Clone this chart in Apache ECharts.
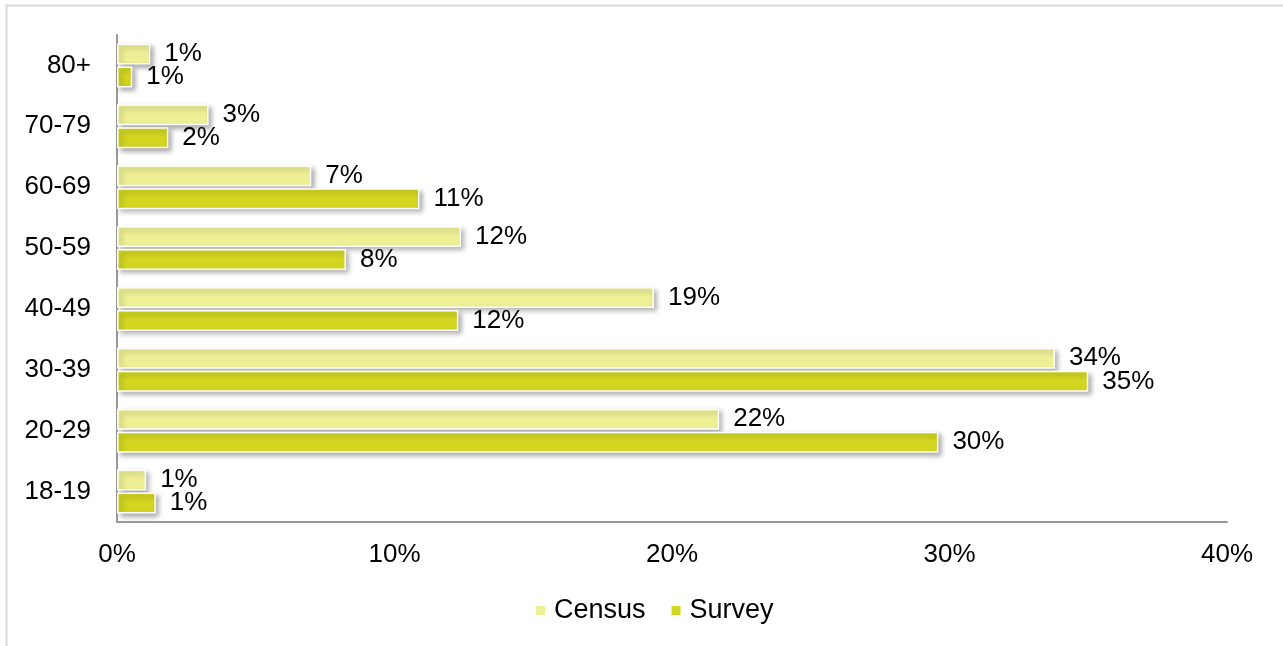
<!DOCTYPE html>
<html>
<head>
<meta charset="utf-8">
<script src="https://cdn.jsdelivr.net/npm/echarts@6/dist/echarts.min.js"></script>
<style>
  html, body { margin: 0; padding: 0; background: #fff; }
  #chart { width: 1283px; height: 646px; }
</style>
</head>
<body>
<div id="chart"></div>
<script>
// Age groups, bottom to top
const ageGroups = ['18-19', '20-29', '30-39', '40-49', '50-59', '60-69', '70-79', '80+'];
// Share of respondents in each age group (%)
const censusValues = [1.05, 21.7, 33.8, 19.35, 12.4, 7.0, 3.3, 1.2];
const surveyValues = [1.4, 29.6, 35.0, 12.3, 8.25, 10.9, 1.85, 0.55];
const xTicks = [0, 10, 20, 30, 40];

const FONT = 'Liberation Sans, Arial, sans-serif';
const censusColor = '#eef096';
const surveyColor = '#d3d620';

const barStyle = (color) => ({
  color: color,
  borderColor: '#ffffff',
  borderWidth: 1.5,
  shadowColor: 'rgba(0,0,0,0.32)',
  shadowBlur: 5,
  shadowOffsetX: 3,
  shadowOffsetY: 3
});

const labelStyle = {
  show: true,
  position: 'right',
  distance: 14,
  color: '#000',
  fontFamily: FONT,
  fontSize: 26,
  formatter: (p) => Math.round(p.value) + '%'
};

const chart = echarts.init(document.getElementById('chart'), null, { renderer: 'canvas' });
chart.setOption({
  animation: false,
  backgroundColor: '#ffffff',
  graphic: [{
    type: 'rect',
    shape: { x: 6.5, y: 5.5, width: 1400, height: 800 },
    style: { fill: 'none', stroke: '#d9d9d9', lineWidth: 2 },
    silent: true,
    z: -10
  }],
  grid: { left: 117, right: 56, top: 35, bottom: 124, containLabel: false },
  legend: {
    data: ['Census', 'Survey'],
    bottom: 17,
    left: 529,
    itemWidth: 11,
    itemHeight: 11,
    itemGap: 24,
    icon: 'rect',
    textStyle: { fontFamily: FONT, fontSize: 27, color: '#000', padding: [0, 0, 0, 3] }
  },
  xAxis: {
    type: 'value',
    min: xTicks[0],
    max: xTicks[xTicks.length - 1],
    interval: 10,
    axisLine: { show: true, lineStyle: { color: '#999999', width: 2 } },
    axisTick: { show: false },
    splitLine: { show: false },
    axisLabel: {
      margin: 20,
      fontFamily: FONT,
      fontSize: 26,
      color: '#000',
      formatter: (v) => v + '%'
    }
  },
  yAxis: {
    type: 'category',
    data: ageGroups,
    axisLine: { show: true, lineStyle: { color: '#999999', width: 2 } },
    axisTick: { show: false },
    axisLabel: { margin: 26, fontFamily: FONT, fontSize: 26, color: '#000' }
  },
  series: [
    {
      name: 'Census',
      type: 'bar',
      data: censusValues,
      barWidth: 21,
      barGap: '10%',
      itemStyle: barStyle(censusColor),
      label: labelStyle
    },
    {
      name: 'Survey',
      type: 'bar',
      data: surveyValues,
      barWidth: 21,
      barGap: '10%',
      itemStyle: barStyle(surveyColor),
      label: labelStyle
    }
  ]
});
</script>
</body>
</html>
